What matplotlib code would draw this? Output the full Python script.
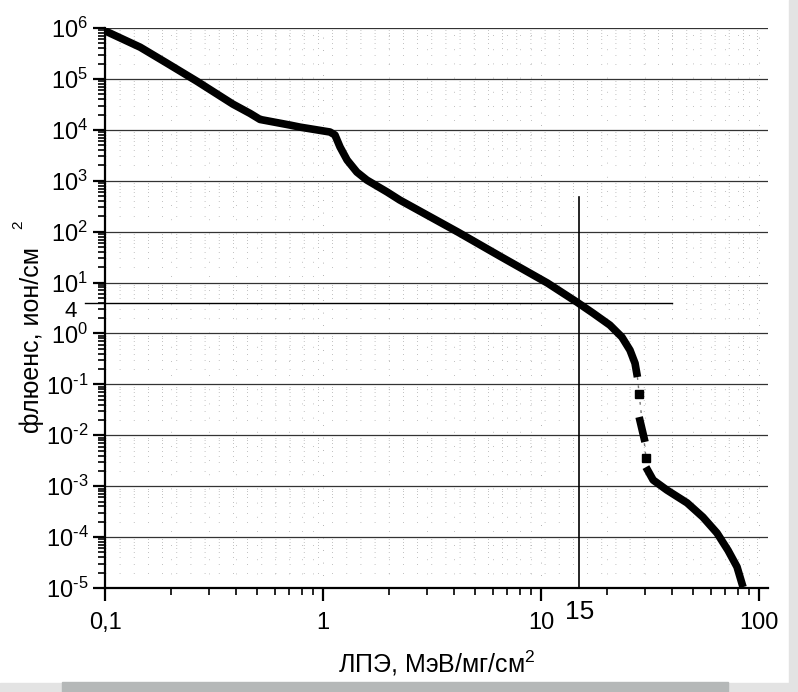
import numpy as np
import matplotlib
matplotlib.use("Agg")
import matplotlib.pyplot as plt
import matplotlib.transforms as mtransforms
from matplotlib.patches import Rectangle
from matplotlib.ticker import FixedLocator, FixedFormatter, LogLocator, NullFormatter

plt.rcParams['font.family'] = ['Liberation Sans', 'DejaVu Sans']
plt.rcParams['mathtext.fontset'] = 'custom'
plt.rcParams['mathtext.rm'] = 'Liberation Sans'
plt.rcParams['mathtext.it'] = 'Liberation Sans'

# fluence spectrum
let_upper = [0.1, 0.145, 0.192, 0.264, 0.386, 0.463, 0.514, 0.706, 0.785, 1.077,
             1.135, 1.197, 1.29, 1.43, 1.59, 1.97, 2.25, 4.16, 6.48, 10.7,
             14.6, 17.3, 20.7, 23.5, 25.6, 27.0, 27.7]
flu_upper = [8.8e5, 4.2e5, 2.05e5, 9e4, 3.2e4, 2.1e4, 1.6e4, 1.24e4, 1.13e4, 9.06e3,
             7.9e3, 4.6e3, 2.55e3, 1.48e3, 1.03e3, 600, 418, 98, 33, 9.8,
             4.14, 2.52, 1.46, 0.85, 0.47, 0.26, 0.139]
let_mid = [28.2, 30.0]
flu_mid = [0.0228, 7.4e-3]
let_sq = [28.2, 30.3]
flu_sq = [0.0660, 3.6e-3]
let_lower = [30.3, 32.7, 37.8, 46.8, 55.3, 64.2, 72.1, 79.3, 84.5]
flu_lower = [2.37e-3, 1.32e-3, 8.4e-4, 4.7e-4, 2.47e-4, 1.2e-4, 5.5e-5, 2.6e-5, 1.04e-5]

x_ticks = [0.1, 1, 10, 100]
x_ticklabels = ['0,1', '1', '10', '100']
y_ticks = [10.0 ** k for k in range(-5, 7)]
y_ticklabels = [r'$10^{\text{%d}}$' % k for k in range(-5, 7)]

let_mark = 15
flu_mark = 4

fig = plt.figure(figsize=(7.98, 6.92), dpi=100)
ax = fig.add_axes([0.1316, 0.1503, 0.8308, 0.8092])
ax.set_xscale('log')
ax.set_yscale('log')
ax.set_xlim(0.1, 110)
ax.set_ylim(1e-5, 1e6)

for s in ['top', 'right']:
    ax.spines[s].set_visible(False)
for s in ['left', 'bottom']:
    ax.spines[s].set_linewidth(1.6)

# grid: solid decades horizontally, sparse dots elsewhere
ax.yaxis.grid(True, which='major', color='#333333', lw=0.9)
ax.xaxis.grid(True, which='major', color='#999999', lw=0.6, ls=(0, (1, 14)))
ax.grid(True, which='minor', color='#aaaaaa', lw=0.6, ls=(0, (1, 16)))

ax.xaxis.set_major_locator(FixedLocator(x_ticks))
ax.xaxis.set_major_formatter(FixedFormatter(x_ticklabels))
ax.xaxis.set_minor_locator(LogLocator(base=10, subs=np.arange(2, 10), numticks=20))
ax.xaxis.set_minor_formatter(NullFormatter())
ax.yaxis.set_major_locator(FixedLocator(y_ticks))
ax.yaxis.set_major_formatter(FixedFormatter(y_ticklabels))
ax.yaxis.set_minor_locator(LogLocator(base=10, subs=np.arange(2, 10), numticks=20))
ax.yaxis.set_minor_formatter(NullFormatter())
ax.tick_params(which='major', direction='out', length=9, width=1.6, labelsize=17)
ax.tick_params(which='minor', direction='out', length=5, width=1.2)
ax.tick_params(axis='x', pad=8)
ax.tick_params(axis='y', pad=3)

# reference lines
ax.plot([let_mark, let_mark], [1e-5, 480], color='black', lw=1.2)
ax.plot([0.081, 40], [flu_mark, flu_mark], color='black', lw=1.0, clip_on=False)

# curve
kw = dict(color='black', lw=5.5, solid_capstyle='butt', solid_joinstyle='round')
ax.plot(let_upper, flu_upper, **kw)
ax.plot([let_upper[-1]] + let_sq + [let_lower[0]],
        [flu_upper[-1]] + flu_sq + [flu_lower[0]],
        color='#777777', lw=1, ls=(0, (2, 4)))
ax.plot(let_mid, flu_mid, **kw)
ax.plot(let_sq, flu_sq, 's', color='black', ms=6)
ax.plot(let_lower, flu_lower, **kw)

ax.text(let_mark, -0.022, '15', transform=ax.get_xaxis_transform(),
        ha='center', va='top', fontsize=19)
shift = mtransforms.ScaledTranslation(0, -6 / 72, fig.dpi_scale_trans)
ax.text(-0.042, flu_mark, '4', transform=ax.get_yaxis_transform() + shift,
        ha='right', va='center', fontsize=16)

fig.text(0.547, 0.042, 'ЛПЭ, МэВ/мг/см$^{2}$', ha='center', va='center',
         fontsize=18)
fig.text(0.040, 0.508, 'флюенс, ион/см', rotation=90, ha='center', va='center',
         fontsize=18)
fig.text(0.023, 0.675, '2', rotation=90, ha='center', va='center', fontsize=11)

# grey frame of the scan
fig.patches.append(Rectangle((0.9887, 0), 0.0113, 1, transform=fig.transFigure,
                             color='#e3e3e3', zorder=0))
fig.patches.append(Rectangle((0, 0), 1, 0.013, transform=fig.transFigure,
                             color='#e3e3e3', zorder=0))
fig.patches.append(Rectangle((0.078, 0), 0.834, 0.0145, transform=fig.transFigure,
                             color='#b5b8b8', zorder=1))

fig.savefig('out.png', dpi=100)
